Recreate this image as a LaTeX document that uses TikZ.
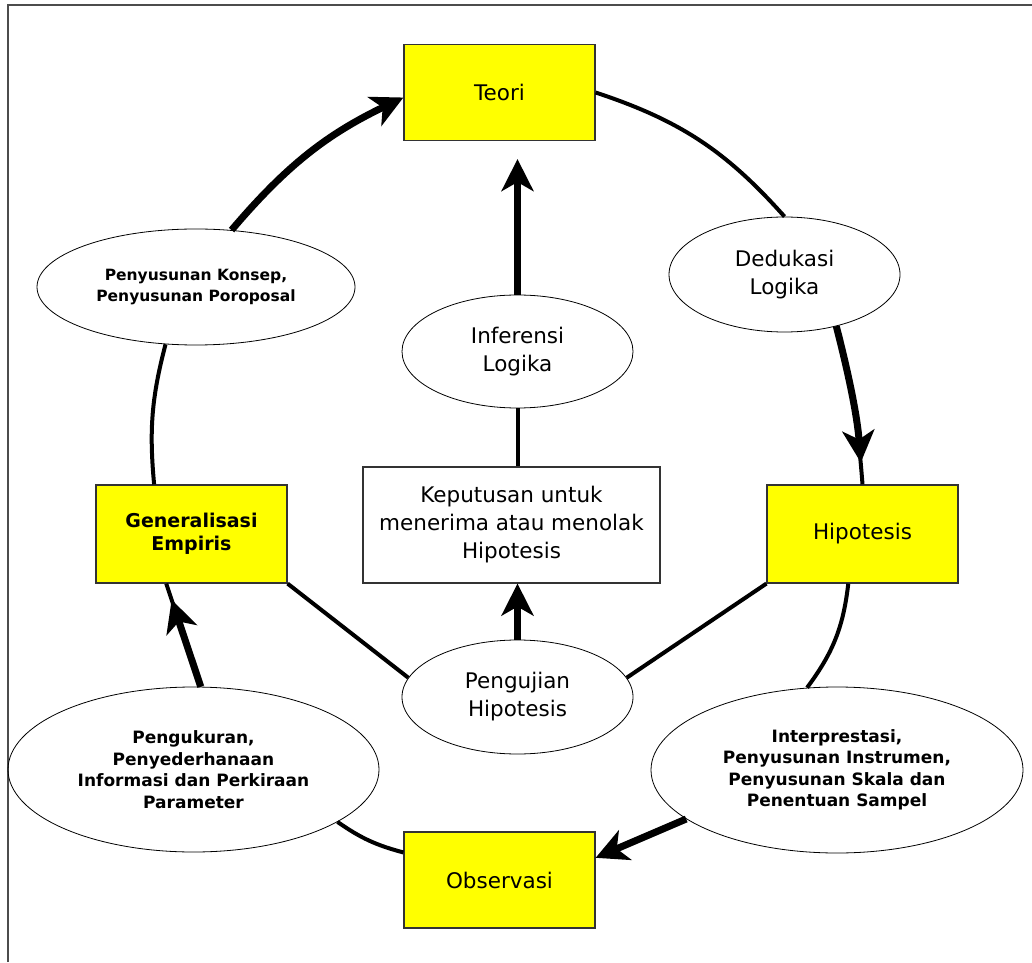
\documentclass[tikz,border=0pt]{standalone}
\usepackage{fontspec}
\setmainfont{DejaVu Sans}
\usetikzlibrary{shapes.geometric,arrows.meta,positioning}
\definecolor{boxyellow}{RGB}{255,255,0}

\begin{document}
\begin{tikzpicture}[x=1pt,y=1pt,
  box/.style={rectangle,draw=black!80,line width=1.2pt,fill=boxyellow,inner sep=0pt,
    minimum width=191pt,minimum height=96pt,align=center},
  oval/.style={ellipse,draw,line width=0.8pt,inner sep=0pt,align=center},
  plain/.style={font=\fontsize{21.5}{28}\selectfont},
  small/.style={font=\fontsize{17}{21.5}\selectfont\bfseries},
  link/.style={line width=4pt},
  flow/.style={line width=7pt,-{Stealth[length=32pt,width=32pt,inset=9pt]}}]
\useasboundingbox (0,0) rectangle (1032,962);
\draw[black!70,line width=1.5pt] (8,0) -- (8,957) -- (1032,957);

% the cycle
\node[box,plain] (teori) at (499.5,869.5) {Teori};
\node[oval,plain,minimum width=231pt,minimum height=115pt] (dedukasi) at (784.5,687.5) {Dedukasi\\Logika};
\node[box,plain,minimum height=98pt] (hipotesis) at (862.5,428) {Hipotesis};
\node[oval,small,minimum width=372pt,minimum height=166pt] (interprestasi) at (837,192)
  {Interprestasi,\\Penyusunan Instrumen,\\Penyusunan Skala dan\\Penentuan Sampel};
\node[box,plain] (observasi) at (499.5,82) {Observasi};
\node[oval,small,minimum width=371pt,minimum height=165pt] (pengukuran) at (193.5,192.5)
  {Pengukuran,\\Penyederhanaan\\Informasi dan Perkiraan\\Parameter};
\node[box,minimum height=98pt,font=\fontsize{19}{23}\selectfont\bfseries] (generalisasi) at (191.5,428)
  {Generalisasi\\Empiris};
\node[oval,minimum width=318pt,minimum height=116pt,font=\fontsize{15.5}{21}\selectfont\bfseries] (konsep) at (196,675)
  {Penyusunan Konsep,\\Penyusunan Poroposal};

% the middle column
\node[oval,plain,minimum width=231pt,minimum height=113pt] (inferensi) at (517.5,610.5) {Inferensi\\Logika};
\node[rectangle,draw=black!80,line width=1.2pt,inner sep=0pt,minimum width=297pt,minimum height=116pt,
  align=center,plain] (keputusan) at (511.5,437) {Keputusan untuk\\menerima atau menolak\\Hipotesis};
\node[oval,plain,minimum width=231pt,minimum height=114pt] (pengujian) at (517.5,265) {Pengujian\\Hipotesis};

% connectors
\draw[link] (teori.east) to[bend left=15] (dedukasi.north);
\draw[link] (dedukasi.-45) to[bend left=5] (hipotesis.north);
\draw[flow,shorten >=22pt] (dedukasi.-45) to[bend left=5] (hipotesis.north);
\draw[link] (hipotesis.-106) to[bend left=15] (interprestasi.110);
\draw[flow] (interprestasi.198) -- (observasi.13);
\draw[link] (observasi.164) to[bend left=10] (pengukuran.-20);
\draw[link] (pengukuran.85) -- (generalisasi.-117);
\draw[flow,shorten >=17pt] (pengukuran.85) -- (generalisasi.-117);
\draw[link] (generalisasi.127) to[bend left=10] (konsep.-118);
\draw[flow] (konsep.58) to[bend left=12] (teori.183);

\draw[flow,shorten >=18pt] (inferensi.north) -- (inferensi.north |- teori.south);
\draw[link] (inferensi.south) -- (inferensi.south |- keputusan.north);
\draw[flow] (pengujian.north) -- (pengujian.north |- keputusan.south);
\draw[link] (generalisasi.south east) -- (pengujian.170);
\draw[link] (hipotesis.south west) -- (pengujian.10);
\end{tikzpicture}
\end{document}
